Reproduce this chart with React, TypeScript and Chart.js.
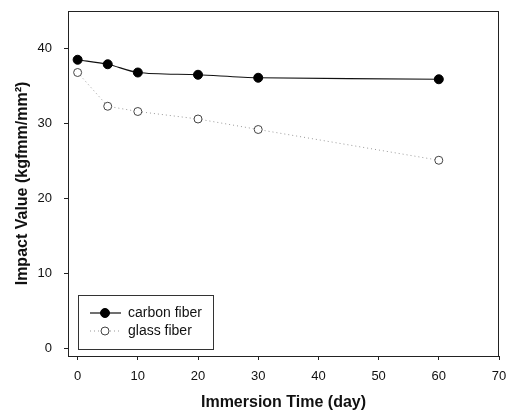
import React, { useEffect, useRef } from "react";
import { Chart, registerables } from "chart.js";

Chart.register(...registerables);

const days = [0, 5, 10, 20, 30, 60];
const carbonFiber = [38.5, 37.9, 36.8, 36.5, 36.1, 35.9];
const glassFiber = [36.8, 32.3, 31.6, 30.6, 29.2, 25.1];
const seriesLabels = ["carbon fiber", "glass fiber"];
const xTicks = [0, 10, 20, 30, 40, 50, 60, 70];
const yTicks = [0, 10, 20, 30, 40];
const xTitle = "Immersion Time (day)";
const yTitle = "Impact Value (kgfmm/mm²)";

const FONT = "'Liberation Sans', Arial, Helvetica, sans-serif";

const zeroPad = (s: any) => {
  s.paddingLeft = 0;
  s.paddingRight = 0;
  s.paddingTop = 0;
  s.paddingBottom = 0;
};

const framePlugin = {
  id: "frame",
  afterDatasetsDraw(chart: any) {
    const { ctx, chartArea } = chart;
    const { left, top, right, bottom } = chartArea;
    ctx.save();
    ctx.strokeStyle = "#222";
    ctx.lineWidth = 1;
    ctx.strokeRect(Math.round(left) + 0.5, Math.round(top) + 0.5, Math.round(right - left) - 1, Math.round(bottom - top));

    // legend
    const bx = Math.round(left + 10);
    const by = Math.round(bottom - 61);
    const bw = 135;
    const bh = 54;
    ctx.fillStyle = "#fff";
    ctx.fillRect(bx, by, bw, bh);
    ctx.strokeStyle = "#333";
    ctx.strokeRect(bx + 0.5, by + 0.5, bw, bh);
    chart.data.datasets.forEach((ds: any, i: number) => {
      const cy = by + 18 + i * 18;
      const x0 = bx + 12;
      const x1 = bx + 43;
      const cx = bx + 27;
      ctx.save();
      ctx.strokeStyle = ds.borderColor;
      ctx.lineWidth = ds.borderWidth;
      ctx.setLineDash(ds.borderDash || []);
      ctx.beginPath();
      ctx.moveTo(x0, cy);
      ctx.lineTo(x1, cy);
      ctx.stroke();
      ctx.setLineDash([]);
      ctx.beginPath();
      ctx.arc(cx, cy, ds.pointRadius, 0, Math.PI * 2);
      ctx.fillStyle = ds.pointBackgroundColor;
      ctx.fill();
      ctx.lineWidth = ds.pointBorderWidth;
      ctx.strokeStyle = ds.pointBorderColor;
      ctx.stroke();
      ctx.restore();
      ctx.fillStyle = "#111";
      ctx.font = `14px ${FONT}`;
      ctx.textBaseline = "middle";
      ctx.textAlign = "left";
      ctx.fillText(ds.label, bx + 50, cy);
    });
    ctx.restore();
  },
};

export default function App() {
  const ref = useRef<HTMLCanvasElement | null>(null);
  useEffect(() => {
    if (!ref.current) return;
    const chart = new Chart(ref.current, {
      type: "line",
      data: {
        datasets: [
          {
            label: seriesLabels[0],
            data: days.map((d, i) => ({ x: d, y: carbonFiber[i] })),
            borderColor: "#111",
            borderWidth: 1.2,
            pointRadius: 4.5,
            pointBackgroundColor: "#000",
            pointBorderColor: "#000",
            pointBorderWidth: 1,
            tension: 0.3,
            fill: false,
          },
          {
            label: seriesLabels[1],
            data: days.map((d, i) => ({ x: d, y: glassFiber[i] })),
            borderColor: "#999",
            borderWidth: 1,
            borderDash: [1, 3],
            pointRadius: 4,
            pointBackgroundColor: "#fff",
            pointBorderColor: "#444",
            pointBorderWidth: 1,
            tension: 0,
            fill: false,
          },
        ],
      },
      options: {
        animation: false,
        responsive: true,
        maintainAspectRatio: false,
        layout: { padding: { top: 11, right: 10, left: 0, bottom: 0 } },
        plugins: { legend: { display: false }, tooltip: { enabled: false } },
        scales: {
          x: {
            type: "linear",
            min: -1.6,
            max: 70,
            afterBuildTicks: (s: any) => {
              s.ticks = xTicks.map((v) => ({ value: v }));
            },
            afterFit: (s: any) => {
              s.height = 56;
              zeroPad(s);
            },
            grid: { drawOnChartArea: false, drawTicks: true, tickLength: 4, color: "#222" },
            border: { display: false },
            ticks: { color: "#111", font: { family: FONT, size: 13 }, padding: 9, maxRotation: 0 },
            title: {
              display: true,
              text: xTitle,
              color: "#111",
              font: { family: FONT, size: 16, weight: "bold" },
              padding: { top: 0, bottom: 0 },
            },
          },
          y: {
            type: "linear",
            min: -1,
            max: 45,
            afterBuildTicks: (s: any) => {
              s.ticks = yTicks.map((v) => ({ value: v }));
            },
            afterFit: (s: any) => {
              s.width = 68;
              zeroPad(s);
            },
            grid: { drawOnChartArea: false, drawTicks: true, tickLength: 4, color: "#222" },
            border: { display: false },
            ticks: { color: "#111", font: { family: FONT, size: 13 }, padding: 12 },
            title: {
              display: true,
              text: yTitle,
              color: "#111",
              font: { family: FONT, size: 16, weight: "bold" },
              padding: { top: 13, bottom: 0 },
            },
          },
        },
      },
      plugins: [framePlugin],
    });
    return () => chart.destroy();
  }, []);
  return (
    <div style={{ position: "fixed", left: 0, top: 0, width: 509, height: 412, background: "#fff" }}>
      <canvas ref={ref} />
    </div>
  );
}
